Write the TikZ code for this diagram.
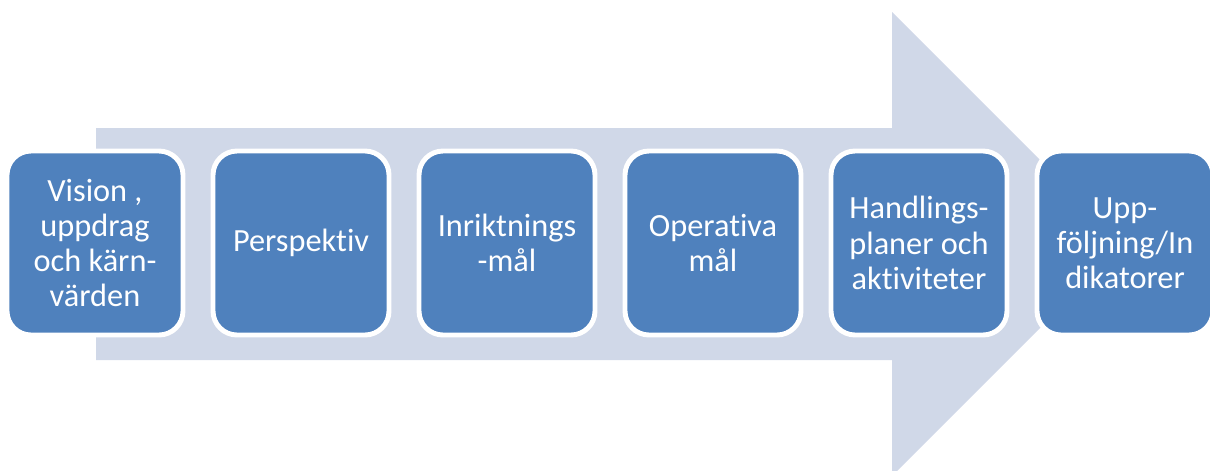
\documentclass[tikz,border=0pt]{standalone}
\usepackage{fontspec}
\setmainfont{Carlito}[Ligatures=NoCommon]
\usepackage{tikz}
\definecolor{arrowbg}{HTML}{D0D8E8}
\definecolor{boxblue}{HTML}{4F81BD}
\tikzset{stage/.style={draw=white,line width=1.4pt,fill=boxblue,rounded corners=0.24cm,minimum width=1.76cm,minimum height=1.84cm,text=white,align=center,font=\fontsize{9.2}{10}\selectfont,inner sep=1pt}}

\begin{document}
\begin{tikzpicture}[line cap=round,line join=round,x=1.0cm,y=1.0cm]
\clip(0.,0.) rectangle (12.1,4.7);
\fill[arrowbg] (0.96,3.42) -- (8.92,3.42) -- (8.92,4.58) -- (11.24,2.26) -- (8.92,-0.06) -- (8.92,1.10) -- (0.96,1.10) -- cycle;
\node[stage] (vision) at (0.95,2.27) {Vision ,\\uppdrag\\och k\"arn-\\v\"arden};
\node[stage] (persp) at (3.01,2.27) {Perspektiv};
\node[stage] (inrikt) at (5.07,2.27) {Inriktnings\\-m\aa l};
\node[stage] (operativa) at (7.13,2.27) {Operativa\\m\aa l};
\node[stage] (handling) at (9.19,2.27) {Handlings-\\planer och\\aktiviteter};
\node[stage] (uppfolj) at (11.25,2.27) {Upp-\\f\"oljning/In\\dikatorer};
\end{tikzpicture}
\end{document}
